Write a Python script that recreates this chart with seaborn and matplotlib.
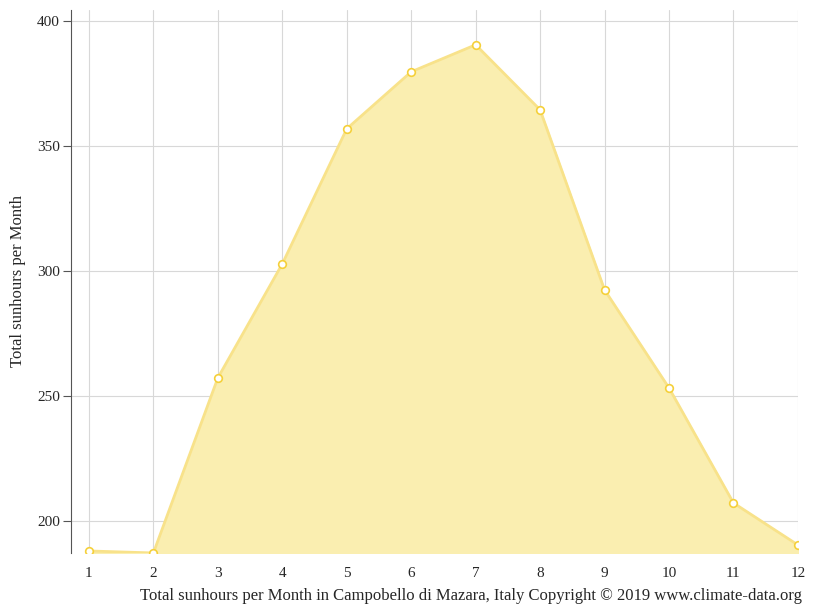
import numpy as np
import pandas as pd
import matplotlib
matplotlib.use("Agg")
from matplotlib import pyplot as plt
import seaborn as sns

months = [1, 2, 3, 4, 5, 6, 7, 8, 9, 10, 11, 12]
sunhours = [188, 187.2, 257.2, 302.8, 356.8, 379.6, 390.4, 364.4, 292.4, 253.2, 207.2, 190.4]

df = pd.DataFrame({"month": months, "sun": sunhours})

sns.set_style("white")
plt.rcParams['font.family'] = ['Liberation Serif', 'DejaVu Serif']

fig = plt.figure(figsize=(8.15, 6.11), dpi=100)
ax = fig.add_axes([0.087, 0.095, 0.892, 0.889])

ymin = 187.2
ax.fill_between(df["month"], df["sun"], ymin, color="#faeeb0", zorder=2)
sns.lineplot(data=df, x="month", y="sun", ax=ax, color="#f8e28a", linewidth=2,
             marker="o", markersize=5.5, markerfacecolor="white",
             markeredgecolor="#f5d03a", markeredgewidth=1.2, zorder=3)

ax.set_xlim(0.72, 12)
ax.set_ylim(ymin, 404.4)
ax.set_xticks(months)
ax.set_yticks([200, 250, 300, 350, 400])
ax.grid(True, color="#d8d8d8", linewidth=0.8, zorder=0)
ax.set_axisbelow(True)
for s in ["top", "right", "bottom"]:
    ax.spines[s].set_visible(False)
ax.spines["left"].set_color("#555555")
ax.tick_params(axis="y", length=6, color="#555555", labelsize=11, pad=2, left=True)
ax.tick_params(axis="x", length=0, labelsize=11, pad=10)
ax.set_xlabel("Total sunhours per Month in Campobello di Mazara, Italy Copyright © 2019 www.climate-data.org",
              fontsize=12, loc="right", labelpad=4)
ax.set_ylabel("Total sunhours per Month", fontsize=12, labelpad=8)
ax.xaxis.set_label_coords(1.005, -0.065)

fig.savefig("out.png", dpi=100)
